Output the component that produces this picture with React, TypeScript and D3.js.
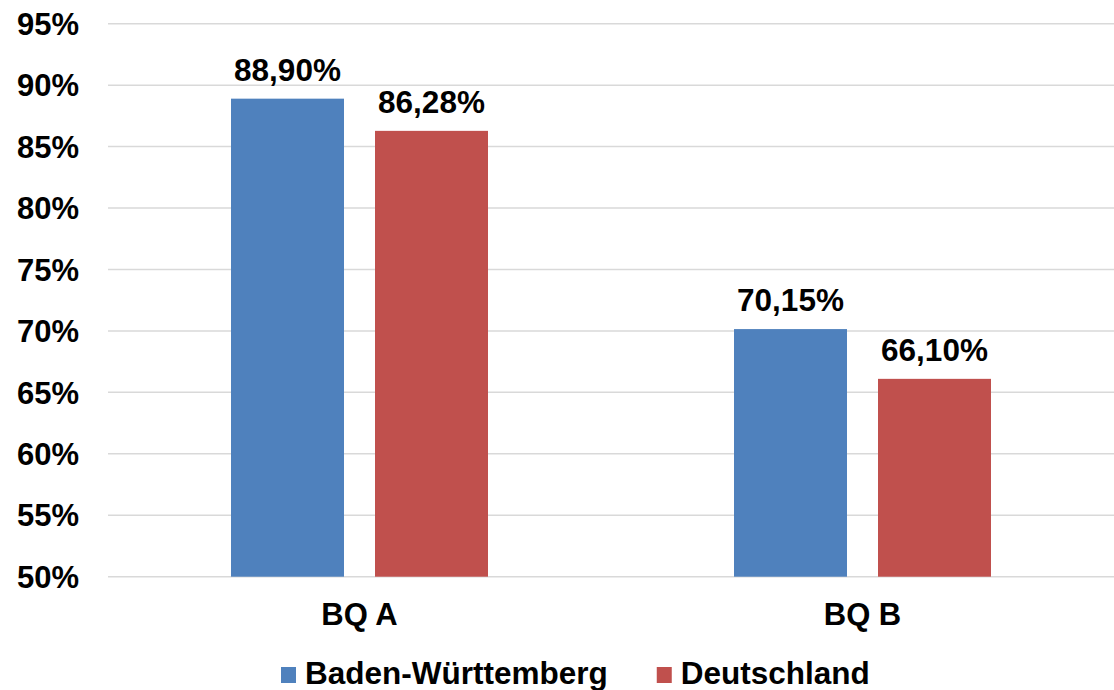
import React from "react";
import * as d3 from "d3";

const categories = ["BQ A", "BQ B"];
const seriesNames = ["Baden-Württemberg", "Deutschland"];
const seriesColors = ["#4F81BD", "#C0504D"];
const badenWuerttemberg = [88.9, 70.15];
const deutschland = [86.28, 66.1];
const yTicks = [50, 55, 60, 65, 70, 75, 80, 85, 90, 95];

const W = 1114;
const H = 690;
const FONT = "'Liberation Sans', Arial, sans-serif";

export default function App() {
  const seriesValues = [badenWuerttemberg, deutschland];
  const x = d3.scaleBand<string>().domain(categories).range([108, 1114]).paddingInner(0).paddingOuter(0);
  const inner = d3
    .scaleBand<string>()
    .domain(seriesNames)
    .range([-128.5, 128.5])
    .paddingInner(31 / 144)
    .paddingOuter(0);
  const y = d3.scaleLinear().domain([50, 95]).range([576.7, 23.7]);
  const fmt = (v: number) => v.toFixed(2).replace(".", ",") + "%";

  const legendFont = 31.5;
  const ctx = typeof document !== "undefined" ? document.createElement("canvas").getContext("2d") : null;
  const measure = (t: string) => {
    if (ctx) {
      ctx.font = `bold ${legendFont}px ${FONT}`;
      return ctx.measureText(t).width;
    }
    return t.length * legendFont * 0.6;
  };
  const sq = 16;
  const sqGap = 8;
  const itemGap = 49;
  const widths = seriesNames.map((s) => sq + sqGap + measure(s));
  let lx = 281;
  const legendItems = seriesNames.map((s, i) => {
    const pos = lx;
    lx += widths[i] + itemGap;
    return { name: s, x: pos, color: seriesColors[i] };
  });

  return (
    <svg
      width={W}
      height={H}
      style={{ position: "absolute", left: 0, top: 0, background: "#fff" }}
      fontFamily={FONT}
      fontWeight="bold"
    >
      <rect x={0} y={0} width={W} height={H} fill="#fff" />
      {yTicks.map((t) => (
        <g key={t}>
          <line x1={108} x2={1114} y1={y(t)} y2={y(t)} stroke="#D9D9D9" strokeWidth={1.5} />
          <text x={79} y={y(t)} dy="0.36em" textAnchor="end" fontSize={31} fill="#000">
            {t}%
          </text>
        </g>
      ))}
      {categories.map((c, ci) => (
        <g key={c} transform={`translate(${(x(c) as number) + x.bandwidth() / 2},0)`}>
          {seriesNames.map((s, si) => {
            const v = seriesValues[si][ci];
            const bx = inner(s) as number;
            const bw = inner.bandwidth();
            return (
              <g key={s}>
                <rect x={bx} y={y(v)} width={bw} height={y(50) - y(v)} fill={seriesColors[si]} />
                <text x={bx + bw / 2} y={y(v) - 18} textAnchor="middle" fontSize={31.5} fill="#000">
                  {fmt(v)}
                </text>
              </g>
            );
          })}
          <text x={0} y={625} textAnchor="middle" fontSize={31} fill="#000">
            {c}
          </text>
        </g>
      ))}
      {legendItems.map((it) => (
        <g key={it.name}>
          <rect x={it.x} y={667} width={sq - 1} height={sq} fill={it.color} />
          <text x={it.x + sq + sqGap} y={684} fontSize={legendFont} fill="#000">
            {it.name}
          </text>
        </g>
      ))}
    </svg>
  );
}
